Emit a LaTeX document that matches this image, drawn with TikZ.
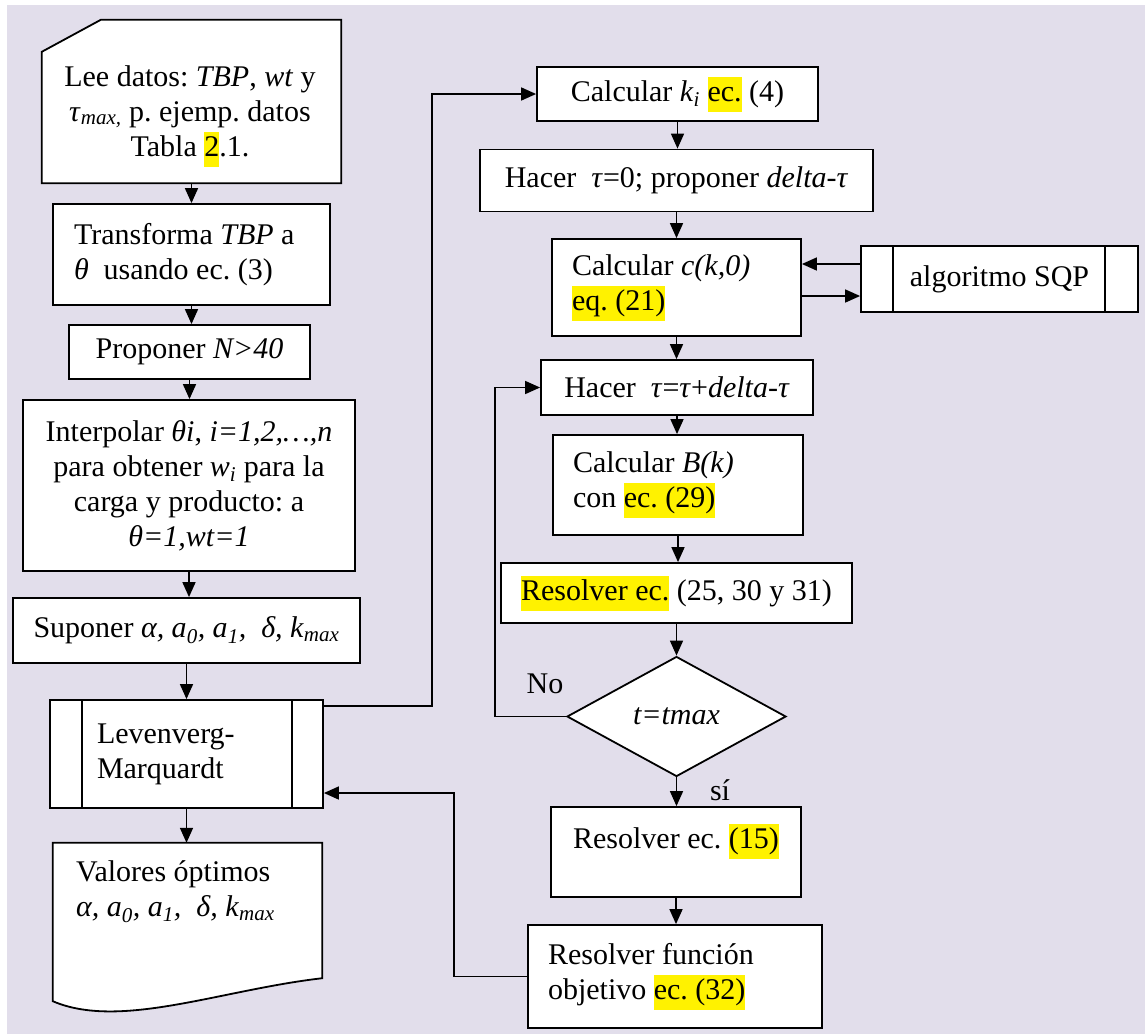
\documentclass[tikz,border=0pt]{standalone}
\usepackage{fontspec}
\setmainfont{Liberation Serif}
\usetikzlibrary{arrows.meta,shapes.geometric,calc}
\definecolor{bgc}{RGB}{226,222,235}
\newcommand{\hlt}[1]{{\setlength{\fboxsep}{0pt}\colorbox{yellow}{\strut #1}}}
\newcommand{\sbi}[1]{\textsubscript{\textit{#1}}}
\frenchspacing
\begin{document}
\begin{tikzpicture}[x=1pt,y=-1pt,
  box/.style={draw, line width=1.8pt, fill=white, inner sep=0pt, font=\fontsize{30}{35}\selectfont\frenchspacing, align=flush center},
  lbox/.style={box, align=flush left},
  shapebox/.style={inner sep=0pt},
  outline/.style={line width=1.8pt, fill=white},
  arr/.style={line width=1.6pt, -{Triangle[length=15pt,width=13pt]}},
  ln/.style={line width=1.6pt},
  txt/.style={inner sep=0pt, font=\fontsize{30}{35}\selectfont\frenchspacing}]

\useasboundingbox (0,0) rectangle (1145,1034);
\fill[white] (0,0) rectangle (1145,1034);
\fill[bgc] (7,5) rectangle (1145,1034);

% ---------- left column ----------
\node[shapebox, minimum width=299pt, minimum height=163pt] (lee) at (191.5,101.5) {};
\draw[outline] (lee.south west) -- ([yshift=-32pt]lee.north west) -- ([xshift=59pt]lee.north west) -- (lee.north east) -- (lee.south east) -- cycle;
\node[txt, align=flush center] (leet) at (190,116) {Lee datos: \textit{TBP}, \textit{wt} y\\\textit{τ}\textsubscript{\textit{max,}} p. ejemp. datos\\Tabla \hlt{2}.1.};

\node[lbox, inner xsep=21pt, text width=235pt, minimum height=101pt] (trans) at (191.5,254.5) {Transforma \textit{TBP} a\\\textit{θ}\ \ usando ec. (3)};

\node[box, minimum width=241pt, minimum height=54pt] (prop) at (189.5,352) {Proponer \textit{N>40}};

\node[box, minimum width=332pt, minimum height=171pt] (interp) at (189,485.5) {Interpolar \textit{θi}, \textit{i=1,2,…,n}\\para obtener \textit{w}\sbi{i} para la\\carga y producto: a\\\textit{θ=1,wt=1}};

\node[box, minimum width=347pt, minimum height=65pt] (supon) at (186.5,630.5) {Suponer \textit{α, a}\sbi{0}\textit{, a}\sbi{1}\textit{,\ \ δ, k}\sbi{max}};

\node[lbox, inner xsep=47pt, text width=179pt, minimum height=108pt] (lm) at (186.5,754) {Levenverg-\\Marquardt};
\draw[ln] ([xshift=33pt]lm.north west) -- ([xshift=33pt]lm.south west);
\draw[ln] ([xshift=-32pt]lm.north east) -- ([xshift=-32pt]lm.south east);

\node[shapebox, minimum width=269pt, minimum height=158pt] (val) at (187.5,922) {};
\draw[outline] (val.south west) -- (val.north west) -- (val.north east) -- ([yshift=23pt]val.south east) .. controls (220,990) and (120,1030) .. (val.south west) -- cycle;
\node[txt, anchor=west, align=flush left] (valt) at (76,891.5) {Valores óptimos\\\textit{α, a}\sbi{0}\textit{, a}\sbi{1}\textit{,\ \ δ, k}\sbi{max}};

% ---------- right column ----------
\node[box, minimum width=281pt, minimum height=54pt] (ki) at (677.5,94) {Calcular \textit{k}\sbi{i} \hlt{ec.} (4)};

\node[box, minimum width=393pt, minimum height=62pt] (h0) at (676.5,180.5) {Hacer \ \textit{τ}=0; proponer \textit{delta-τ}};

\node[lbox, inner xsep=20pt, text width=209pt, minimum height=97pt] (ck) at (676.5,287.5) {Calcular \textit{c(k,0)}\\\hlt{eq. (21)}};

\node[box, minimum width=277pt, minimum height=66pt] (sqp) at (999.5,279) {algoritmo SQP};
\draw[ln] ([xshift=33pt]sqp.north west) -- ([xshift=33pt]sqp.south west);
\draw[ln] ([xshift=-34pt]sqp.north east) -- ([xshift=-34pt]sqp.south east);

\node[box, minimum width=272pt, minimum height=55pt] (ht) at (677,387.5) {Hacer \ \textit{τ}=\textit{τ}+\textit{delta-τ}};

\node[lbox, inner xsep=20pt, text width=210pt, minimum height=100pt] (bk) at (678,485) {Calcular \textit{B(k)}\\con \hlt{ec. (29)}};

\node[box, minimum width=351pt, minimum height=60pt] (r25) at (676.5,593) {\hlt{Resolver ec.} (25, 30 y 31)};

\node[draw, diamond, line width=1.8pt, fill=white, inner sep=0pt, minimum width=219pt, minimum height=120pt, font=\fontsize{30}{35}\selectfont] (dia) at (676.5,716.5) {\textit{t=tmax}};

\node[box, minimum width=250pt, minimum height=90pt, text depth=32pt] (r15) at (676,852) {Resolver ec. \hlt{(15)}};

\node[lbox, inner xsep=20pt, text width=254pt, minimum height=103pt] (rf) at (675,976.5) {Resolver función\\objetivo \hlt{ec. (32)}};

\node[txt] (no) at (545,684) {No};
\node[txt] (si) at (720,790) {sí};

% ---------- connectors ----------
\draw[arr] (lee.south) -- (lee.south |- trans.north);
\draw[arr] (trans.south) -- (trans.south |- prop.north);
\draw[arr] (prop.south) -- (prop.south |- interp.north);
\draw[arr] (interp.south) -- (interp.south |- supon.north);
\draw[arr] (supon.south) -- (supon.south |- lm.north);
\draw[arr] (lm.south) -- (lm.south |- val.north);
\draw[arr] ([yshift=-7pt]lm.north east) -- ++(108,0) |- (ki.west);
\draw[arr] (ki.south) -- (ki.south |- h0.north);
\draw[arr] (h0.south) -- (h0.south |- ck.north);
\draw[arr] ([yshift=15pt]sqp.west) -- ([yshift=15pt]sqp.west -| ck.east);
\draw[arr] ([yshift=-17pt]sqp.west -| ck.east) -- ([yshift=-17pt]sqp.west);
\draw[arr] (ck.south) -- (ck.south |- ht.north);
\draw[arr] (ht.south) -- (ht.south |- bk.north);
\draw[arr] (bk.south) -- (bk.south |- r25.north);
\draw[arr] (r25.south) -- (r25.south |- dia.north);
\draw[arr] (dia.south) -- (dia.south |- r15.north);
\draw[arr] (dia.west) -- ++(-71,0) |- (ht.west);
\draw[arr] (r15.south) -- (r15.south |- rf.north);
\draw[arr] (rf.west) -- ++(-73,0) |- ([yshift=-39pt]lm.east);
\end{tikzpicture}
\end{document}
